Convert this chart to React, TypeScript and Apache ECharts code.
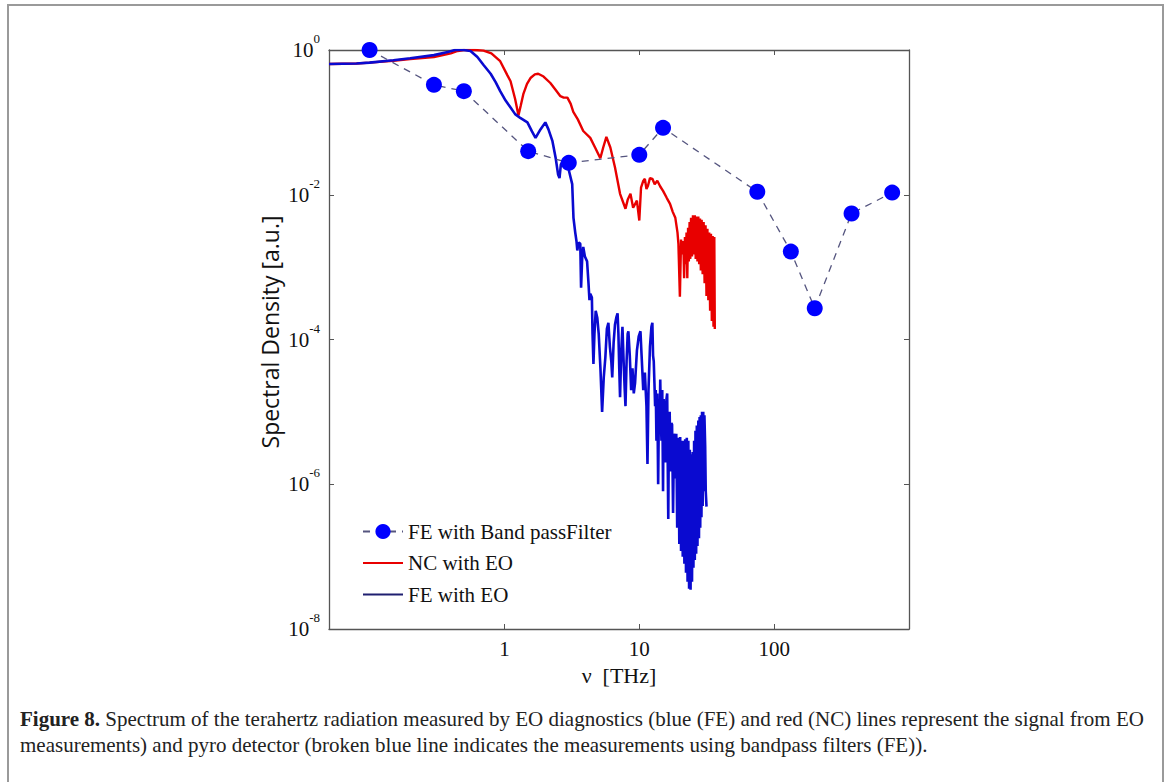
import React, { useEffect, useRef } from 'react';
import * as echarts from 'echarts';

// Pyro detector with bandpass filters (FE): [frequency THz, spectral density]
const bandpassData: [number, number][] = [
  [0.1, 1.0], [0.3, 0.33], [0.5, 0.27], [1.5, 0.04], [3, 0.0276], [10, 0.0356],
  [15, 0.084], [75, 0.011], [133, 0.00164], [200, 0.00027], [375, 0.0055], [750, 0.0107],
];

// NC with EO (red)
const ncData: [number, number][] = [
  [0.05, 0.64], [0.08, 0.65], [0.1, 0.67], [0.15, 0.71], [0.2, 0.75], [0.3, 0.8], [0.4, 0.9],
  [0.45, 0.97], [0.5, 1.0], [0.6, 1.0], [0.7, 0.98], [0.8, 0.9], [0.93, 0.7], [1.05, 0.45],
  [1.11, 0.37], [1.2, 0.21], [1.27, 0.125], [1.32, 0.17], [1.38, 0.245], [1.47, 0.34],
  [1.56, 0.41], [1.68, 0.46], [1.78, 0.47], [1.95, 0.43], [2.19, 0.35], [2.4, 0.28],
  [2.6, 0.23], [2.75, 0.22], [2.93, 0.22], [3.1, 0.18], [3.24, 0.14], [3.5, 0.11],
  [3.84, 0.076], [4.33, 0.061], [4.7, 0.045], [5.14, 0.032], [5.4, 0.045], [5.7, 0.063],
  [6.1, 0.045], [6.6, 0.024], [7.2, 0.0103], [7.9, 0.0064], [8.2, 0.0085], [8.6, 0.0103],
  [9.0, 0.0066], [9.6, 0.0083], [10.0, 0.0044], [10.3, 0.0125], [10.7, 0.0155], [11.0, 0.0166],
  [11.3, 0.012], [11.6, 0.0133], [12.0, 0.017], [12.5, 0.0166], [13.0, 0.014], [13.6, 0.0156],
  [14.3, 0.013], [15, 0.0113], [16, 0.009], [16.9, 0.0075], [17.7, 0.0058], [18.5, 0.0048],
  [19.2, 0.003], [19.5, 0.0021], [20.0, 0.00039], [20.4, 0.0024], [20.8, 0.0015], [21.2, 0.0023],
  [21.5, 0.0007], [21.8, 0.0026], [22.1, 0.0011], [22.4, 0.003], [22.7, 0.0007], [23.0, 0.0035],
  [23.3, 0.0012], [23.6, 0.0042], [23.9, 0.0013], [24.2, 0.0048], [24.6, 0.0014], [25.0, 0.0052],
  [25.4, 0.0015], [25.8, 0.0052], [26.2, 0.0013], [26.6, 0.005], [27.0, 0.0012], [27.4, 0.005],
  [27.8, 0.0011], [28.2, 0.0047], [28.6, 0.0009], [29.0, 0.0045], [29.5, 0.0008], [30.0, 0.0042],
  [30.5, 0.0006], [31.0, 0.0038], [31.5, 0.0004], [32.0, 0.0034], [32.5, 0.00035], [33.0, 0.003],
  [33.5, 0.00025], [34.0, 0.0029], [34.5, 0.00018], [35.0, 0.0027], [35.5, 0.00015], [36.0, 0.0026],
  [36.3, 0.00014],
];

// FE with EO (blue)
const feData: [number, number][] = [
  [0.05, 0.64], [0.08, 0.65], [0.1, 0.67], [0.15, 0.72], [0.2, 0.77], [0.3, 0.85], [0.38, 0.94],
  [0.43, 1.0], [0.5, 1.0], [0.56, 0.97], [0.63, 0.8], [0.7, 0.62], [0.79, 0.47], [0.86, 0.36],
  [0.93, 0.27], [1.02, 0.2], [1.11, 0.16], [1.2, 0.13], [1.31, 0.115], [1.48, 0.1], [1.6, 0.075],
  [1.7, 0.061], [1.85, 0.08], [2.01, 0.1], [2.12, 0.08], [2.27, 0.055], [2.4, 0.032], [2.5, 0.019],
  [2.56, 0.017], [2.62, 0.026], [2.7, 0.029], [2.85, 0.028], [3.0, 0.022], [3.18, 0.014],
  [3.25, 0.0048], [3.35, 0.003], [3.42, 0.0023], [3.47, 0.0017], [3.55, 0.0022], [3.65, 0.0021],
  [3.7, 0.00052], [3.78, 0.0015], [3.84, 0.0019], [3.95, 0.0014], [4.1, 0.0012], [4.2, 0.0006],
  [4.27, 0.00035], [4.33, 0.00043], [4.45, 0.00038], [4.5, 0.00012], [4.57, 4.6e-5], [4.65, 0.00012],
  [4.75, 0.00025], [4.88, 0.0002], [5.0, 0.00012], [5.15, 4e-5], [5.3, 1.0e-5], [5.45, 3e-5],
  [5.6, 5.6e-5], [5.75, 0.00014], [5.9, 0.00017], [6.05, 8e-5], [6.2, 5e-5], [6.3, 3e-5],
  [6.45, 9e-5], [6.6, 0.00016], [6.75, 0.0002], [6.9, 0.00023], [7.0, 0.00012], [7.1, 4e-5],
  [7.2, 1.6e-5], [7.35, 7e-5], [7.5, 0.00015], [7.65, 5e-5], [7.8, 2e-5], [7.9, 1.2e-5],
  [8.05, 5e-5], [8.2, 0.00012], [8.3, 0.00013], [8.5, 6e-5], [8.7, 2e-5], [8.9, 4e-5],
  [9.1, 1.8e-5], [9.3, 2.5e-5], [9.6, 7e-5], [9.9, 0.00011], [10.2, 0.00013], [10.4, 6e-5],
  [10.7, 2e-5], [11.0, 3.5e-5], [11.3, 1.2e-5], [11.5, 1.9e-6], [11.7, 2e-5], [12.0, 8e-5],
  [12.3, 0.00015], [12.5, 0.00017], [12.65, 6e-5], [12.8, 5e-5], [12.95, 2.5e-5], [13.1, 1.2e-5],
  [13.25, 2e-5], [13.4, 4e-6], [13.6, 1.8e-5], [13.8, 1.0e-6], [14.0, 1.5e-5], [14.15, 6e-6],
  [14.3, 2.8e-5], [14.45, 8e-6], [14.6, 4e-6], [14.8, 2e-5], [15.0, 8e-7], [15.15, 1.5e-5],
  [15.3, 1.2e-5], [15.5, 3e-6], [15.7, 2e-6], [15.9, 1.5e-5], [16.1, 1.8e-5], [16.25, 2e-6],
  [16.4, 3.3e-7], [16.6, 8e-6], [16.8, 1e-5], [16.95, 3e-6], [17.1, 1.5e-6], [17.3, 7e-6],
  [17.5, 6.7e-6], [17.8, 4e-7],
  [18.1, 5e-6], [18.5, 1.2e-6], [18.8, 5e-6], [19.1, 2.5e-7], [19.5, 4.4e-6], [19.8, 1.5e-7],
  [20.1, 4.5e-6], [20.4, 1.2e-7], [20.7, 4e-6], [21.0, 1e-7], [21.3, 4e-6], [21.6, 8e-8],
  [21.9, 4.2e-6], [22.2, 6e-8], [22.5, 4.4e-6], [22.8, 4.5e-8], [23.1, 4e-6], [23.4, 3.6e-8],
  [23.7, 3e-6], [24.0, 3.5e-8], [24.3, 2.6e-6], [24.6, 4.5e-8], [24.9, 2.8e-6], [25.2, 7e-8],
  [25.5, 4e-6], [25.8, 9e-8], [26.1, 5.5e-6], [26.4, 1.1e-7], [26.7, 6.5e-6], [27.0, 1.4e-7],
  [27.4, 7.6e-6], [27.7, 1.8e-7], [28.0, 8.5e-6], [28.3, 2.5e-7], [28.6, 9e-6], [28.9, 3.5e-7],
  [29.2, 1.0e-5], [29.5, 5e-7], [29.8, 1e-5], [30.1, 8e-7], [30.4, 9e-6], [30.8, 3.3e-6],
  [31.1, 8e-7], [31.5, 4.9e-7],
];

const xTickValues = [1, 10, 100];
const yTickValues = [1e-8, 1e-6, 1e-4, 1e-2, 1];
const legendNames = ['FE with Band passFilter', 'NC with EO', 'FE with EO'];
const xAxisTitle = 'ν  [THz]';
const yAxisTitle = 'Spectral Density [a.u.]';
const captionBold = 'Figure 8.';
const captionLine1 = ' Spectrum of the terahertz radiation measured by EO diagnostics (blue (FE) and red (NC) lines represent the signal from EO';
const captionLine2 = 'measurements) and pyro detector (broken blue line indicates the measurements using bandpass filters (FE)).';

export default function App() {
  const ref = useRef<HTMLDivElement>(null);
  useEffect(() => {
    const chart = echarts.init(ref.current!, null, { renderer: 'svg' });
    const serif = '"Liberation Serif", "Times New Roman", serif';
    const sans = '"Open Sans", "Noto Sans", sans-serif';
    const axisColor = '#555';
    const xBase = {
      type: 'log' as const,
      logBase: 10,
      min: 0.05,
      max: 1000,
      splitLine: { show: false },
      axisLine: { lineStyle: { color: axisColor, width: 1.3 } },
      axisTick: { inside: true, length: 5, customValues: xTickValues, lineStyle: { color: axisColor } },
    };
    const yBase = {
      type: 'log' as const,
      logBase: 10,
      min: 1e-8,
      max: 1,
      splitNumber: 4,
      splitLine: { show: false },
      axisLine: { lineStyle: { color: axisColor, width: 1.3 } },
      axisTick: { inside: true, length: 5, customValues: yTickValues, lineStyle: { color: axisColor } },
    };
    chart.setOption({
      animation: false,
      backgroundColor: '#fff',
      grid: { left: 329, top: 50, width: 580, height: 579, containLabel: false },
      xAxis: [
        {
          ...xBase,
          position: 'bottom',
          axisLabel: {
            customValues: xTickValues,
            formatter: (v: number) => String(Math.round(v)),
            fontFamily: serif,
            fontSize: 21,
            color: '#111',
            margin: 9,
          },
          name: xAxisTitle,
          nameLocation: 'middle',
          nameGap: 35,
          nameTextStyle: { fontFamily: serif, fontSize: 22, color: '#111' },
        },
        { ...xBase, position: 'top', axisLabel: { show: false } },
      ],
      yAxis: [
        {
          ...yBase,
          position: 'left',
          axisLabel: {
            customValues: yTickValues,
            formatter: (v: number) => `{b|10}{s|${Math.round(Math.log10(v))}}`,
            margin: 9,
            rich: {
              b: { fontFamily: serif, fontSize: 21, color: '#111', lineHeight: 36 },
              s: { fontFamily: serif, fontSize: 13, color: '#111', verticalAlign: 'top' },
            },
          },
        },
        { ...yBase, position: 'right', axisLabel: { show: false } },
      ],
      legend: {
        orient: 'vertical',
        left: 357,
        top: 516,
        itemWidth: 40,
        itemHeight: 19,
        itemGap: 10.5,
        textStyle: { fontFamily: serif, fontSize: 21, color: '#111' },
        data: [
          { name: legendNames[0] },
          { name: legendNames[1], itemStyle: { opacity: 0 } },
          { name: legendNames[2], itemStyle: { opacity: 0 }, lineStyle: { color: '#1f1f70' } },
        ],
      },
      series: [
        {
          name: legendNames[1],
          type: 'line',
          data: ncData,
          symbol: 'none',
          showSymbol: false,
          lineStyle: { color: '#e80000', width: 2.4 },
          itemStyle: { color: '#e80000' },
          z: 2,
        },
        {
          name: legendNames[2],
          type: 'line',
          data: feData,
          symbol: 'none',
          showSymbol: false,
          lineStyle: { color: '#0a0ad0', width: 2.6 },
          itemStyle: { color: '#0a0ad0' },
          z: 3,
        },
        {
          name: legendNames[0],
          type: 'line',
          data: bandpassData,
          symbol: 'circle',
          symbolSize: 16,
          clip: false,
          itemStyle: { color: '#0000ff' },
          lineStyle: { color: '#55557f', width: 1.3, type: [7, 6] },
          z: 5,
        },
      ],
      graphic: [
        {
          type: 'rect',
          silent: true,
          shape: { x: 8, y: 5, width: 1155, height: 820 },
          style: { fill: 'none', stroke: '#9a9a9a', lineWidth: 2 },
        },
        {
          type: 'text',
          x: 270,
          y: 332,
          rotation: Math.PI / 2,
          silent: true,
          style: {
            text: yAxisTitle,
            fontFamily: sans,
            fontSize: 23,
            fill: '#111',
            align: 'center',
            verticalAlign: 'middle',
          },
        },
        {
          type: 'text',
          x: 20,
          y: 719,
          silent: true,
          style: {
            text: `{b|${captionBold}}${captionLine1}`,
            fontFamily: serif,
            fontSize: 21,
            fill: '#222',
            verticalAlign: 'middle',
            rich: { b: { fontFamily: serif, fontSize: 21, fontWeight: 'bold', fill: '#222' } },
          },
        },
        {
          type: 'text',
          x: 20,
          y: 745,
          silent: true,
          style: {
            text: captionLine2,
            fontFamily: serif,
            fontSize: 21,
            fill: '#222',
            verticalAlign: 'middle',
          },
        },
      ],
    });
    return () => chart.dispose();
  }, []);
  return (
    <div style={{ position: 'fixed', left: 0, top: 0, width: 1170, height: 782, background: '#fff' }}>
      <div ref={ref} style={{ width: 1170, height: 782 }} />
    </div>
  );
}
